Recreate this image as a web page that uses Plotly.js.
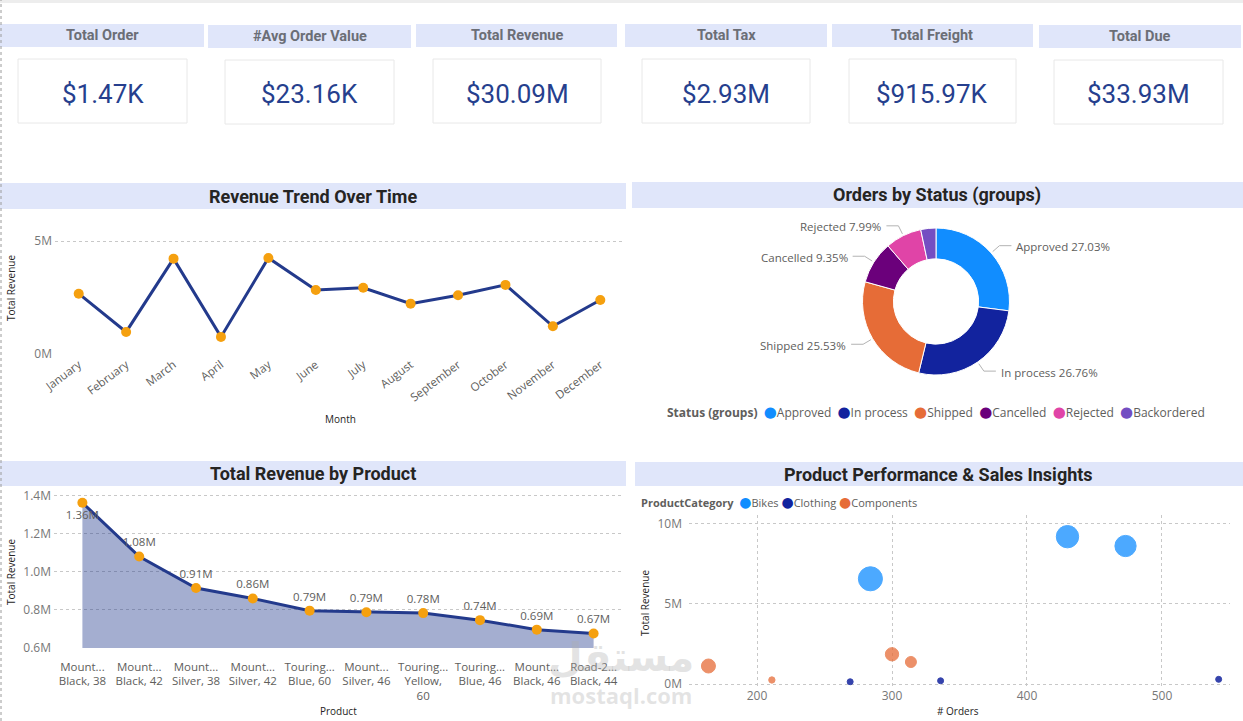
<!DOCTYPE html>
<html><head><meta charset="utf-8">
<script src="https://cdn.plot.ly/plotly-3.0.1.min.js"></script>
<style>html,body{margin:0;padding:0;background:#fff;overflow:hidden}#chart{width:1243px;height:721px}</style>
</head><body><div id="chart"></div>
<script>
// ---------------- DATA ----------------
const kpiTitles = ['Total Order','#Avg Order Value','Total Revenue','Total Tax','Total Freight','Total Due'];
const kpiValues = ['$1.47K','$23.16K','$30.09M','$2.93M','$915.97K','$33.93M'];

const months = ['January','February','March','April','May','June','July','August','September','October','November','December'];
const monthRevenue = [2.67,0.98,4.22,0.76,4.25,2.83,2.93,2.23,2.60,3.06,1.23,2.39]; // $M
const monthTickVals = [0,5];
const monthTickText = ['0M','5M'];

const products = ['Mount...<br>Black, 38','Mount...<br>Black, 42','Mount...<br>Silver, 38','Mount...<br>Silver, 42','Touring...<br>Blue, 60','Mount...<br>Silver, 46','Touring...<br>Yellow,<br>60','Touring...<br>Blue, 46','Mount...<br>Black, 46','Road-2...<br>Black, 44'];
const productRevenue = [1.362,1.079,0.913,0.858,0.794,0.786,0.781,0.744,0.694,0.674]; // $M
const productTickVals = [0.6,0.8,1.0,1.2,1.4];
const productTickText = ['0.6M','0.8M','1.0M','1.2M','1.4M'];

const statusNames = ['Approved','In process','Shipped','Cancelled','Rejected','Backordered'];
const statusShare = [27.03,26.76,25.53,9.35,7.99,3.34];
const statusColors = ['#118DFF','#12239E','#E66C37','#6B007B','#E044A7','#744EC2'];

const categories = ['Bikes','Clothing','Components'];
const categoryColors = ['#118DFF','#12239E','#E66C37'];
const catOrders = [[284,430,473],[269,336,542],[164,211,300,314]];
const catRevenue = [[6.55,9.17,8.59],[0.14,0.20,0.29],[1.12,0.25,1.85,1.37]]; // $M
const catQuantity = [[5.8,5.0,4.5],[0.36,0.36,0.36],[1.96,0.40,1.77,1.21]]; // K units (bubble size)
const bubbleTickVals = [0,5,10];
const bubbleTickText = ['0M','5M','10M'];

// ---------------- LAYOUT HELPERS ----------------
const W=1243, H=721;
const X = p => p/W, Y = p => 1 - p/H;
const TITLE_FONT = 'Roboto, "DejaVu Sans", sans-serif';
const BODY_FONT = '"Open Sans", "Noto Sans", "DejaVu Sans", sans-serif';
const GRAY = '#605E5C';
const NAVY = '#233A8C';
const ORANGE = '#F5A00F';
const SP = '\u00A0';

const shapes = [], annotations = [];
function rect(x0,y0,x1,y1,fill,line,layer){
  shapes.push({type:'rect',xref:'paper',yref:'paper',x0:X(x0),x1:X(x1),y0:Y(y1),y1:Y(y0),
    fillcolor:fill,line:{color:line||fill,width:line?1:0},layer:layer||'below'});
}
function text(x,y,t,size,color,family,opts){
  annotations.push(Object.assign({xref:'paper',yref:'paper',x:X(x),y:Y(y),text:t,showarrow:false,
    xanchor:'center',yanchor:'middle',font:{size:size,color:color,family:family}},opts||{}));
}

// page frame
rect(0,0,1243,3,'#EDEDED');
shapes.push({type:'line',xref:'paper',yref:'paper',x0:X(1),x1:X(1),y0:0,y1:1,line:{color:'#9a9a9a',width:1,dash:'dot'}});

// KPI cards
const BAND = '#E0E6FA';
const kpiBands = [[0,204,24,47],[208,411,25,48],[416,617,24,47],[625,827,24,47],[832,1033,24,47],[1039,1241,25,48]];
const kpiCards = [[18,187,59,123],[225,394,60,124],[433,601,59,123],[642,810,59,123],[849,1016,59,123],[1054,1223,60,124]];
kpiTitles.forEach((t,i)=>{
  const b=kpiBands[i], c=kpiCards[i];
  rect(b[0],b[2],b[1],b[3],BAND);
  rect(c[0],c[2],c[1],c[3],'#FFFFFF','#E8E8E8');
  text((b[0]+b[1])/2,(b[2]+b[3])/2,'<b>'+t+'</b>',14.5,'#6B6E76',TITLE_FONT);
  text((c[0]+c[1])/2,94,kpiValues[i],26,'#263F8E',TITLE_FONT);
});

// Section header bands
const sections = [
  ['Revenue Trend Over Time',0,626,183,209],
  ['Orders by Status (groups)',632,1243,182,208],
  ['Total Revenue by Product',0,626,461,486],
  ['Product Performance & Sales Insights',635,1243,462,486]
];
sections.forEach(s=>{
  rect(s[1],s[3],s[2],s[4],BAND);
  text((s[1]+s[2])/2,(s[3]+s[4])/2,'<b>'+s[0]+'</b>',18,'#252423',TITLE_FONT);
});

// Axis titles
text(11,288,'Total Revenue',10,'#252423',BODY_FONT,{textangle:-90});
text(340,419,'Month',10,'#252423',BODY_FONT);
text(11,572,'Total Revenue',10,'#252423',BODY_FONT,{textangle:-90});
text(338,711,'Product',10,'#252423',BODY_FONT);
text(645,603,'Total Revenue',10,'#252423',BODY_FONT,{textangle:-90});
text(958,711,'# Orders',10,'#252423',BODY_FONT);

// Donut geometry + labels with leader lines (derived from shares)
const cx=936, cy=301.5, R=73.5;
let cum=0;
statusShare.forEach((v,i)=>{
  const a0=cum; cum+=v;
  if (v < 5) return; // small slice label hidden, as in reference
  const mid=((a0+cum)/2)/100*2*Math.PI;
  const s=Math.sin(mid), c=Math.cos(mid), dir = s>0?1:-1;
  const p0=[cx+(R+2)*s, cy-(R+2)*c], p1=[cx+(R+11)*s, cy-(R+11)*c], p2=[p1[0]+dir*12, p1[1]];
  shapes.push({type:'path',xref:'paper',yref:'paper',layer:'above',
    path:`M${X(p0[0])},${Y(p0[1])} L${X(p1[0])},${Y(p1[1])} L${X(p2[0])},${Y(p2[1])}`,
    line:{color:'#B3B3B3',width:1}});
  text(p2[0]+dir*3,p1[1]+1,statusNames[i]+' '+v.toFixed(2)+'%',11.5,GRAY,BODY_FONT,{xanchor:dir>0?'left':'right'});
});

// Legends (rich-text)
const dot = (c,sz) => `<span style="color:${c};font-size:${sz}px">●</span>`;
text(665,411,'<b>Status (groups)</b>'+SP+SP+statusNames.map((n,i)=>dot(statusColors[i],15)+n).join(SP+SP),12,GRAY,BODY_FONT,{xanchor:'left'});
text(639,501,'<b>ProductCategory</b>'+SP+SP+categories.map((n,i)=>dot(categoryColors[i],14)+n).join(SP),11,GRAY,BODY_FONT,{xanchor:'left'});

// Watermark
text(621,657,'<b>مستقل</b>',40,'rgba(175,175,175,0.35)','"DejaVu Sans", sans-serif');
text(621,695,'<b>mostaql.com</b>',22,'rgba(175,175,175,0.35)',BODY_FONT);

// ---------------- TRACES ----------------
const traces = [];
traces.push({type:'scatter',mode:'lines+markers',x:months,y:monthRevenue,xaxis:'x',yaxis:'y',
  line:{color:NAVY,width:3},marker:{color:ORANGE,size:10},hoverinfo:'skip'});

traces.push({type:'scatter',mode:'lines+markers+text',x:products,y:productRevenue,xaxis:'x2',yaxis:'y2',
  fill:'tozeroy',fillcolor:'rgba(35,58,140,0.41)',
  line:{color:NAVY,width:3},marker:{color:ORANGE,size:10},
  text:productRevenue.map(v=>v.toFixed(2)+'M'),
  textposition:productRevenue.map((v,i)=>i===0?'bottom center':'top center'),
  textfont:{size:11.5,color:GRAY,family:BODY_FONT},cliponaxis:false,hoverinfo:'skip'});

traces.push({type:'pie',values:statusShare,labels:statusNames,sort:false,direction:'clockwise',rotation:0,
  hole:0.58,marker:{colors:statusColors,line:{color:'#ffffff',width:1}},textinfo:'none',
  domain:{x:[X(cx-R),X(cx+R)],y:[Y(cy+R),Y(cy-R)]},hoverinfo:'skip',showlegend:false});

categories.forEach((cat,k)=>{
  traces.push({type:'scatter',mode:'markers',name:cat,x:catOrders[k],y:catRevenue[k],xaxis:'x3',yaxis:'y3',
    marker:{color:categoryColors[k],opacity:k===1?0.85:0.75,size:catQuantity[k].map(q=>10*Math.sqrt(q)),
      line:{color:categoryColors[k],width:1}},hoverinfo:'skip'});
});

// ---------------- AXES ----------------
const tickF = {size:11.5,color:GRAY,family:BODY_FONT};
const tickF2 = {size:11.5,color:GRAY,family:BODY_FONT};
const yTickF = {size:12,color:'#777777',family:BODY_FONT};
const grid = {showgrid:true,gridcolor:'#C8C8C8',griddash:'dot',gridwidth:1,zeroline:false,showline:false,ticks:''};

const layout = {
  width:W,height:H,margin:{l:0,r:0,t:0,b:0},paper_bgcolor:'#ffffff',plot_bgcolor:'rgba(0,0,0,0)',
  showlegend:false,font:{family:BODY_FONT,color:GRAY},
  shapes:shapes,annotations:annotations,
  xaxis:{domain:[X(55),X(624)],anchor:'y',type:'category',range:[-0.5,months.length-0.5],tickangle:-37,showgrid:false,zeroline:false,showline:false,ticks:'',tickfont:tickF},
  yaxis:Object.assign({domain:[Y(355),Y(222)],anchor:'x',range:[-0.04,5.84],tickmode:'array',tickvals:monthTickVals,ticktext:monthTickText,tickfont:yTickF,ticklabelstandoff:2},grid),
  xaxis2:{domain:[X(54),X(622)],anchor:'y2',type:'category',range:[-0.5,products.length-0.5],tickangle:0,showgrid:false,zeroline:false,showline:false,ticks:'',tickfont:tickF2,ticklabelstandoff:10},
  yaxis2:Object.assign({domain:[Y(648),Y(488)],anchor:'x2',range:[0.5974,1.4395],tickmode:'array',tickvals:productTickVals,ticktext:productTickText,tickfont:yTickF,ticklabelstandoff:2},grid),
  xaxis3:Object.assign({domain:[X(689),X(1230)],anchor:'y3',range:[149.6,550.4],dtick:100,tickfont:yTickF},grid),
  yaxis3:Object.assign({domain:[Y(687),Y(515)],anchor:'x3',range:[-0.187,10.52],tickmode:'array',tickvals:bubbleTickVals,ticktext:bubbleTickText,tickfont:yTickF,ticklabelstandoff:6},grid)
};

Plotly.newPlot('chart',traces,layout,{displayModeBar:false,staticPlot:true});
</script></body></html>
